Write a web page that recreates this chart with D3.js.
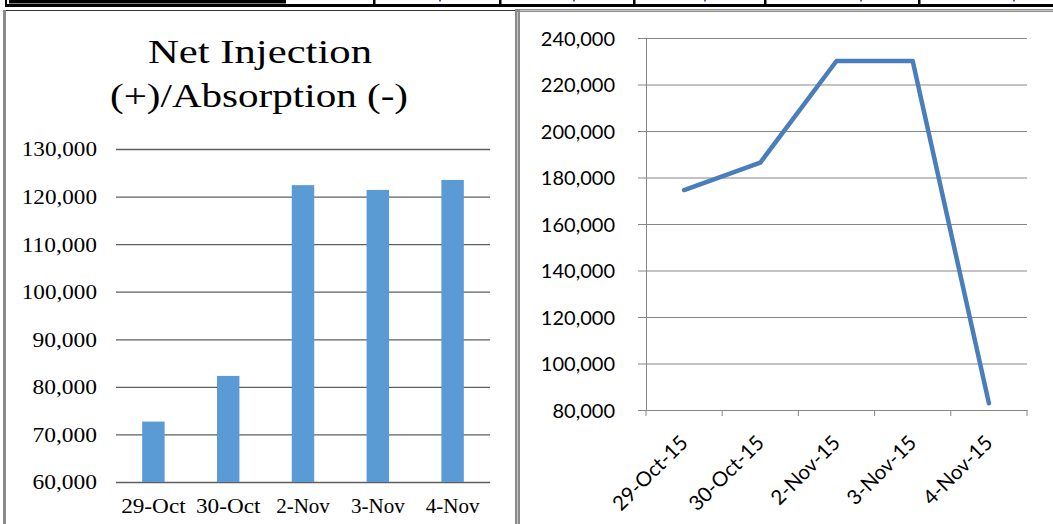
<!DOCTYPE html>
<html>
<head>
<meta charset="utf-8">
<script src="https://cdn.jsdelivr.net/npm/d3@7"></script>
<style>
  body { margin: 0; background: #fff; }
  svg { display: block; }
  .mono { font-family: "Liberation Serif", "DejaVu Serif", serif; fill: #000; }
  .cal { font-family: Lato, "Liberation Sans", sans-serif; fill: #000; }
</style>
</head>
<body>
<svg id="page" width="1053" height="524"></svg>
<script>
// left chart: net injection / absorption
var barDates = ["29-Oct", "30-Oct", "2-Nov", "3-Nov", "4-Nov"];
var barValues = [72700, 82300, 122400, 121400, 123500];
var barTicks = [60000, 70000, 80000, 90000, 100000, 110000, 120000, 130000];

// right chart
var lineDates = ["29-Oct-15", "30-Oct-15", "2-Nov-15", "3-Nov-15", "4-Nov-15"];
var lineValues = [174600, 186400, 230100, 230100, 82900];
var lineTicks = [80000, 100000, 120000, 140000, 160000, 180000, 200000, 220000, 240000];

var svg = d3.select("#page");
var fmt = d3.format(",");

/* ---- bits of the table row above the charts ---- */
svg.append("rect").attr("x", 9).attr("y", 0).attr("width", 277).attr("height", 3.5).attr("fill", "#000");
svg.append("rect").attr("x", 5).attr("y", 4).attr("width", 1048).attr("height", 3).attr("fill", "#000");
svg.append("rect").attr("x", 5).attr("y", 0).attr("width", 2).attr("height", 7).attr("fill", "#000");
[374, 500, 634, 765, 919].forEach(function (x) {
  svg.append("rect").attr("x", x - 1).attr("y", 0).attr("width", 2.5).attr("height", 7).attr("fill", "#000");
});
[439, 573, 704, 860, 1013].forEach(function (x) {
  svg.append("rect").attr("x", x).attr("y", 0).attr("width", 2).attr("height", 1.5).attr("fill", "#5a5ad0");
});

/* ---- panel frames ---- */
svg.append("line").attr("x1", 4).attr("x2", 515).attr("y1", 10.5).attr("y2", 10.5)
  .attr("stroke", "#333").attr("stroke-width", 1);
svg.append("line").attr("x1", 4.5).attr("x2", 4.5).attr("y1", 10).attr("y2", 524)
  .attr("stroke", "#8a8a8a").attr("stroke-width", 3);
svg.append("line").attr("x1", 517.5).attr("x2", 517.5).attr("y1", 9).attr("y2", 524)
  .attr("stroke", "#8a8a8a").attr("stroke-width", 5);
svg.append("line").attr("x1", 517.5).attr("x2", 517.5).attr("y1", 12).attr("y2", 524)
  .attr("stroke", "#c8c8c8").attr("stroke-width", 1);
svg.append("line").attr("x1", 515).attr("x2", 1053).attr("y1", 10.5).attr("y2", 10.5)
  .attr("stroke", "#8a8a8a").attr("stroke-width", 3);
svg.append("line").attr("x1", 520).attr("x2", 1053).attr("y1", 10.5).attr("y2", 10.5)
  .attr("stroke", "#c8c8c8").attr("stroke-width", 1);

/* ================= LEFT: bar chart ================= */
var xL = d3.scaleBand().domain(barDates).range([116, 490]).paddingInner(0.7).paddingOuter(0.35);
var yL = d3.scaleLinear().domain([60000, 130000]).range([482, 149]);

svg.append("text").attr("class", "mono").attr("x", 260).attr("y", 63)
  .attr("text-anchor", "middle").attr("font-size", 33)
  .attr("textLength", 224).attr("lengthAdjust", "spacingAndGlyphs")
  .text("Net Injection");
svg.append("text").attr("class", "mono").attr("x", 259).attr("y", 107)
  .attr("text-anchor", "middle").attr("font-size", 33)
  .attr("textLength", 298).attr("lengthAdjust", "spacingAndGlyphs")
  .text("(+)/Absorption (-)");

var gyL = svg.append("g")
  .attr("transform", "translate(116,0)")
  .call(d3.axisLeft(yL).tickValues(barTicks).tickFormat(fmt).tickSizeInner(-374).tickSizeOuter(0).tickPadding(19));
gyL.select(".domain").remove();
gyL.selectAll(".tick line").attr("stroke", "#5f5f5f").attr("stroke-width", 1.3);
gyL.selectAll(".tick text")
  .attr("class", "mono").attr("font-size", 21)
  .attr("lengthAdjust", "spacingAndGlyphs")
  .attr("textLength", function (d) { return fmt(d).length * 10.75; })
  .attr("dy", "0.33em");

svg.selectAll(".bar")
  .data(barValues)
  .enter().append("rect")
    .attr("class", "bar")
    .attr("x", function (d, i) { return xL(barDates[i]); })
    .attr("y", function (d) { return yL(d); })
    .attr("width", xL.bandwidth())
    .attr("height", function (d) { return yL(60000) - yL(d); })
    .attr("fill", "#5b9bd5");

var gxL = svg.append("g")
  .attr("transform", "translate(0,482)")
  .call(d3.axisBottom(xL).tickSize(0).tickPadding(0));
gxL.select(".domain").remove();
gxL.selectAll(".tick text")
  .attr("class", "mono").attr("font-size", 21)
  .attr("lengthAdjust", "spacingAndGlyphs")
  .attr("textLength", function (d) { return d.length * 10.75; })
  .attr("y", 31).attr("dy", 0);

/* ================= RIGHT: line chart ================= */
var xR = d3.scaleBand().domain(lineDates).range([646, 1027]).padding(0);
var yR = d3.scaleLinear().domain([80000, 240000]).range([410, 38]);

var gyR = svg.append("g")
  .attr("transform", "translate(646,0)")
  .call(d3.axisLeft(yR).tickValues(lineTicks).tickFormat(fmt).tickSizeInner(-381).tickSizeOuter(0).tickPadding(31));
gyR.select(".domain").attr("stroke", "#868686");
gyR.selectAll(".tick line").attr("x1", -8).attr("stroke", "#868686");
gyR.selectAll(".tick text").attr("class", "cal").attr("font-size", 20).attr("dy", "0.36em");

var gxR = svg.append("g")
  .attr("transform", "translate(0,410)")
  .call(d3.axisBottom(xR).tickSize(0).tickPadding(0));
gxR.select(".domain").attr("stroke", "#868686");
gxR.selectAll(".tick text")
  .attr("class", "cal").attr("font-size", 20.5)
  .attr("text-anchor", "end")
  .attr("y", 0).attr("dy", 0)
  .attr("transform", "translate(5,34) rotate(-45)");

// tick marks sit on the category boundaries
gxR.selectAll(".bound")
  .data(lineDates.concat(["end"]))
  .enter().append("line")
    .attr("class", "bound")
    .attr("x1", function (d) { return d === "end" ? xR.range()[1] : xR(d); })
    .attr("x2", function (d) { return d === "end" ? xR.range()[1] : xR(d); })
    .attr("y1", 0).attr("y2", 6)
    .attr("stroke", "#868686");

var line = d3.line()
  .x(function (d, i) { return xR(lineDates[i]) + xR.bandwidth() / 2; })
  .y(function (d) { return yR(d); });

svg.append("path")
  .datum(lineValues)
  .attr("d", line)
  .attr("fill", "none")
  .attr("stroke", "#4a7ebb")
  .attr("stroke-width", 4.5)
  .attr("stroke-linejoin", "round")
  .attr("stroke-linecap", "round");
</script>
</body>
</html>
